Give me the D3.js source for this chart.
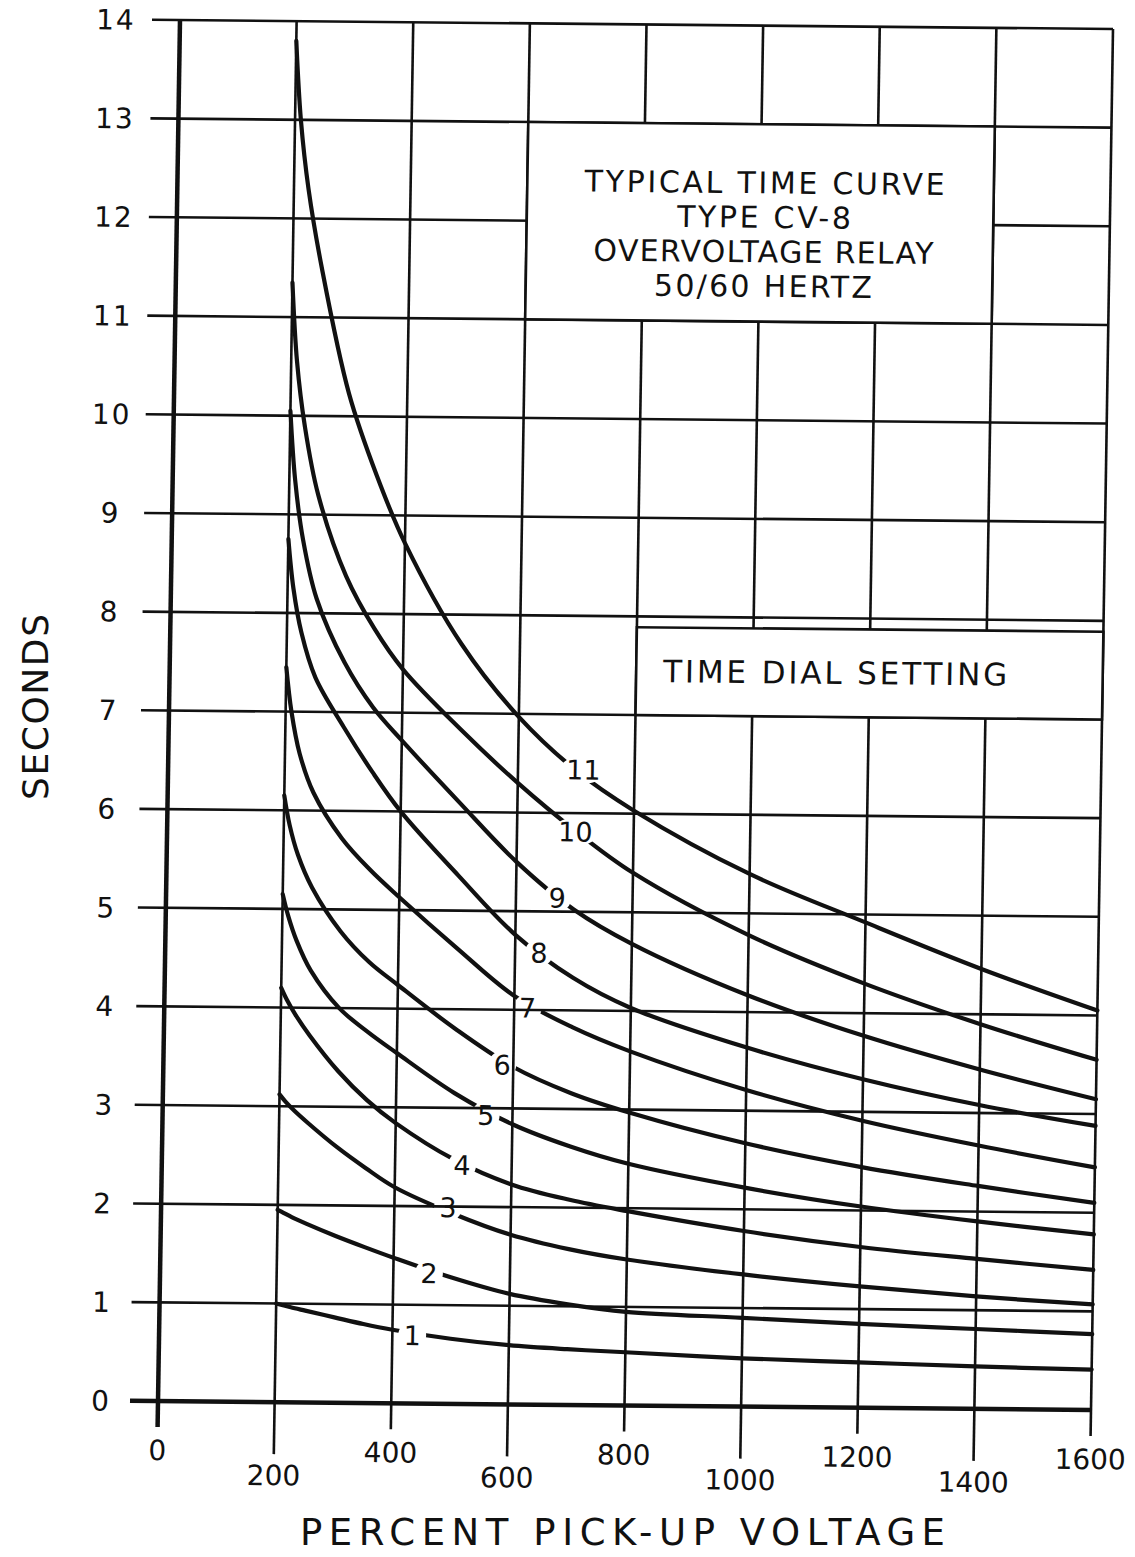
<!DOCTYPE html>
<html>
<head>
<meta charset="utf-8">
<script src="https://cdn.jsdelivr.net/npm/d3@7/dist/d3.min.js"></script>
<style>
  body { margin: 0; background: #fff; }
  text { font-family: "DejaVu Sans", sans-serif; fill: #111; }
</style>
</head>
<body>
<svg id="chart" width="1135" height="1557"></svg>
<script>
// valores
var xTicks = [0, 200, 400, 600, 800, 1000, 1200, 1400, 1600];
var yTicks = [0, 1, 2, 3, 4, 5, 6, 7, 8, 9, 10, 11, 12, 13, 14];
var dials = ["1", "2", "3", "4", "5", "6", "7", "8", "9", "10", "11"];

// porcentaje de tension de arranque
var voltage = [200, 210, 225, 250, 300, 350, 400, 500, 600, 700, 800, 1000, 1200, 1400, 1600];

// segundos, una lista por ajuste del dial
var dial1  = [1.00, 0.985, 0.963, 0.93, 0.865, 0.80, 0.745, 0.66, 0.60, 0.565, 0.54, 0.49, 0.46, 0.43, 0.41];
var dial2  = [1.95, 1.92, 1.875, 1.81, 1.69, 1.58, 1.475, 1.28, 1.12, 1.02, 0.95, 0.90, 0.85, 0.81, 0.77];
var dial3  = [3.12, 3.05, 2.96, 2.83, 2.59, 2.38, 2.19, 1.93, 1.72, 1.58, 1.48, 1.34, 1.23, 1.14, 1.07];
var dial4  = [4.20, 4.08, 3.93, 3.72, 3.36, 3.07, 2.84, 2.48, 2.23, 2.08, 1.97, 1.78, 1.63, 1.52, 1.42];
var dial5  = [5.15, 4.93, 4.68, 4.38, 4.00, 3.76, 3.55, 3.15, 2.84, 2.62, 2.45, 2.22, 2.04, 1.90, 1.78];
var dial6  = [6.15, 5.85, 5.55, 5.22, 4.78, 4.47, 4.24, 3.80, 3.42, 3.16, 2.97, 2.67, 2.44, 2.26, 2.10];
var dial7  = [7.45, 7.00, 6.58, 6.18, 5.72, 5.40, 5.13, 4.62, 4.14, 3.83, 3.59, 3.21, 2.91, 2.67, 2.46];
var dial8  = [8.75, 8.25, 7.80, 7.35, 6.85, 6.40, 6.00, 5.36, 4.76, 4.33, 4.03, 3.64, 3.33, 3.08, 2.88];
var dial9  = [10.05, 9.35, 8.75, 8.15, 7.50, 7.05, 6.72, 6.10, 5.50, 5.02, 4.68, 4.17, 3.77, 3.44, 3.15];
var dial10 = [11.35, 10.55, 9.90, 9.20, 8.38, 7.85, 7.44, 6.84, 6.30, 5.82, 5.40, 4.78, 4.30, 3.90, 3.55];
var dial11 = [13.80, 13.00, 12.30, 11.50, 10.23, 9.40, 8.72, 7.70, 6.97, 6.43, 6.03, 5.40, 4.92, 4.46, 4.05];
var series = [dial1, dial2, dial3, dial4, dial5, dial6, dial7, dial8, dial9, dial10, dial11];

// donde va el numero de cada curva
var labelVolt = [434, 461, 492, 515, 554, 581, 623, 641, 671, 700, 712];
var labelSec  = [0.69, 1.32, 1.99, 2.42, 2.93, 3.44, 4.02, 4.58, 5.14, 5.81, 6.44];

var titleLines = ["TYPICAL TIME CURVE", "TYPE CV-8", "OVERVOLTAGE RELAY", "50/60 HERTZ"];
var titleWidths = [360, 174, 340, 218];

// tamaño del area de la grafica (el escaneo esta un poco torcido)
var width = 933, height = 1381;

var svg = d3.select("#chart");
svg.append("rect").attr("width", 1135).attr("height", 1557).attr("fill", "#fff");

var g = svg.append("g")
    .attr("transform", "matrix(1,0.00965,-0.01593,1,180,20)");

var x = d3.scaleLinear().domain([0, 1600]).range([0, width]);
var y = d3.scaleLinear().domain([0, 14]).range([height, 0]);

// rejilla horizontal, sale un poco a la izquierda
g.selectAll(".hline")
    .data(yTicks)
  .enter().append("line")
    .attr("x1", -28).attr("x2", x(1600))
    .attr("y1", function(d) { return y(d); })
    .attr("y2", function(d) { return y(d); })
    .attr("stroke", "#111")
    .attr("stroke-width", function(d) { return d === 0 ? 4.5 : 2.6; });

// rejilla vertical con marcas largas y cortas alternadas
g.selectAll(".vline")
    .data(xTicks)
  .enter().append("line")
    .attr("x1", function(d) { return x(d); })
    .attr("x2", function(d) { return x(d); })
    .attr("y1", y(14))
    .attr("y2", function(d, i) { return y(0) + (i % 2 ? 52 : 26); })
    .attr("stroke", "#111")
    .attr("stroke-width", function(d) { return d === 0 ? 4.5 : 2.6; });

// cuadro del titulo
var box1 = g.append("g");
box1.append("rect")
    .attr("x", x(600)).attr("y", y(13))
    .attr("width", x(1400) - x(600)).attr("height", y(11) - y(13))
    .attr("fill", "#fff").attr("stroke", "#111").attr("stroke-width", 2.6);
box1.selectAll("text")
    .data(titleLines)
  .enter().append("text")
    .attr("x", x(1000) + 4)
    .attr("y", function(d, i) { return y(13) + 69 + i * 34.5; })
    .attr("text-anchor", "middle")
    .attr("font-size", 30)
    .attr("textLength", function(d, i) { return titleWidths[i]; })
    .attr("lengthAdjust", "spacing")
    .text(function(d) { return d; });

// cuadro de ajuste del dial
var box2 = g.append("g");
box2.append("rect")
    .attr("x", x(800)).attr("y", y(7.89))
    .attr("width", x(1600) - x(800)).attr("height", y(7) - y(7.89))
    .attr("fill", "#fff").attr("stroke", "#111").attr("stroke-width", 2.6);
box2.append("text")
    .attr("x", x(800) + 27)
    .attr("y", y(7) - 33)
    .attr("font-size", 31)
    .attr("textLength", 344)
    .attr("lengthAdjust", "spacing")
    .text("TIME DIAL SETTING");

// mascara para cortar las curvas donde va el numero
var defs = svg.append("defs");
var mask = defs.append("mask")
    .attr("id", "gaps")
    .attr("maskUnits", "userSpaceOnUse")
    .attr("x", -200).attr("y", -200).attr("width", 1400).attr("height", 1800);
mask.append("rect")
    .attr("x", -200).attr("y", -200).attr("width", 1400).attr("height", 1800)
    .attr("fill", "#fff");
mask.selectAll("ellipse")
    .data(dials)
  .enter().append("ellipse")
    .attr("cx", function(d, i) { return x(labelVolt[i]); })
    .attr("cy", function(d, i) { return y(labelSec[i]); })
    .attr("rx", function(d) { return d.length > 1 ? 23 : 14; })
    .attr("ry", 14)
    .attr("fill", "#000");

var line = d3.line()
    .x(function(d, i) { return x(voltage[i]); })
    .y(function(d) { return y(d); })
    .curve(d3.curveCatmullRom.alpha(0.5));

g.append("g")
    .attr("mask", "url(#gaps)")
  .selectAll("path")
    .data(series)
  .enter().append("path")
    .attr("d", line)
    .attr("fill", "none")
    .attr("stroke", "#111")
    .attr("stroke-width", 4.2)
    .attr("stroke-linecap", "round");

g.selectAll(".dial")
    .data(dials)
  .enter().append("text")
    .attr("x", function(d, i) { return x(labelVolt[i]); })
    .attr("y", function(d, i) { return y(labelSec[i]); })
    .attr("dy", "0.36em")
    .attr("text-anchor", "middle")
    .attr("font-size", 27)
    .text(function(d) { return d; });

// etiquetas de los ejes
g.selectAll(".ylab")
    .data(yTicks)
  .enter().append("text")
    .attr("x", function(d) { return -57 - 7 * d / 14; })
    .attr("y", function(d) { return y(d); })
    .attr("dy", "0.36em")
    .attr("text-anchor", "middle")
    .attr("font-size", 28)
    .attr("letter-spacing", 2)
    .text(function(d) { return d; });

g.selectAll(".xlab")
    .data(xTicks)
  .enter().append("text")
    .attr("x", function(d) { return x(d); })
    .attr("y", function(d, i) { return y(0) + (i % 2 ? 73 : 49); })
    .attr("dy", "0.36em")
    .attr("text-anchor", "middle")
    .attr("font-size", 28)
    .text(function(d) { return d; });

svg.append("text")
    .attr("x", 300).attr("y", 1545)
    .attr("font-size", 37)
    .attr("textLength", 645)
    .attr("lengthAdjust", "spacing")
    .text("PERCENT PICK-UP VOLTAGE");

svg.append("text")
    .attr("transform", "translate(48,800) rotate(-90)")
    .attr("font-size", 36)
    .attr("textLength", 186)
    .attr("lengthAdjust", "spacing")
    .text("SECONDS");
</script>
</body>
</html>
